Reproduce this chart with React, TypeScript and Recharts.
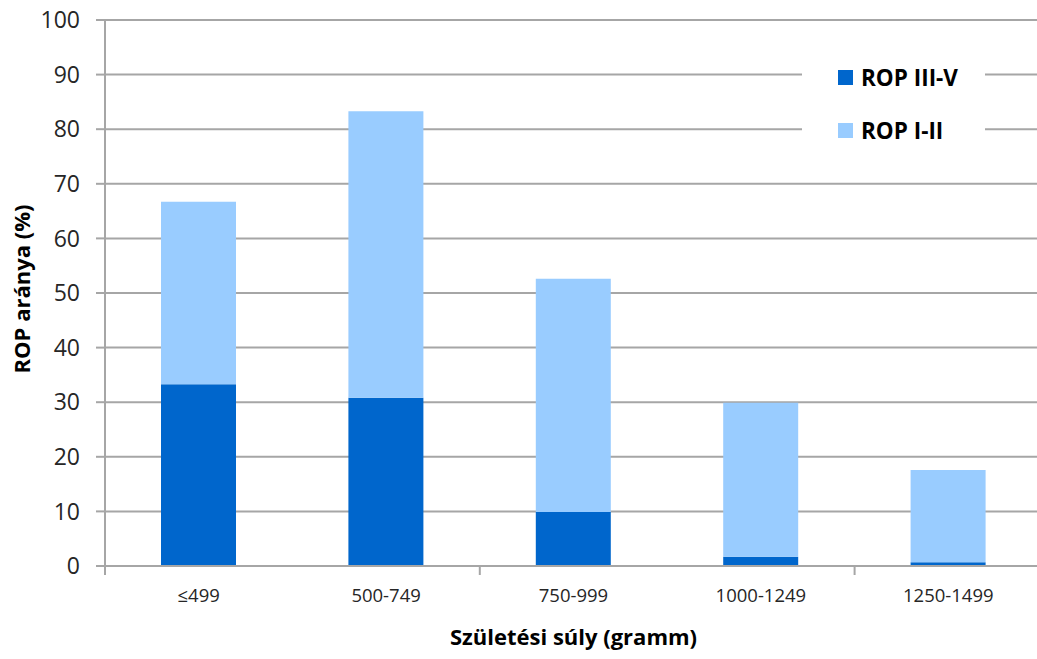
import React from "react";
import {
  BarChart,
  Bar,
  XAxis,
  YAxis,
  CartesianGrid,
  Legend,
} from "recharts";

const categories = ["≤499", "500-749", "750-999", "1000-1249", "1250-1499"];
const ropSevere = [33.3, 30.8, 9.9, 1.7, 0.7]; // ROP III-V
const ropMild = [33.4, 52.5, 42.7, 28.2, 16.9]; // ROP I-II
const yTicks = [0, 10, 20, 30, 40, 50, 60, 70, 80, 90, 100];

const DARK = "#0066CC";
const LIGHT = "#99CCFF";
const GRID = "#A6A6A6";
const TEXT = "#262626";

const series = [
  { key: "severe", name: "ROP III-V", color: DARK },
  { key: "mild", name: "ROP I-II", color: LIGHT },
];

const data = categories.map((c, i) => ({
  cat: c,
  severe: ropSevere[i],
  mild: ropMild[i],
}));

const XTick = (props: any) => {
  const { x, y, payload, index } = props;
  const half = payload?.offset ?? 0;
  return (
    <g>
      {index % 2 === 0 && (
        <line x1={x - half} x2={x - half} y1={y} y2={y + 9} stroke={GRID} strokeWidth={2} />
      )}
      <text x={x} y={y + 36} textAnchor="middle" fontSize={18.5} fill={TEXT}>
        {payload.value}
      </text>
    </g>
  );
};

const YTitle = () => (
  <text
    x={30}
    y={289}
    transform="rotate(-90 30 289)"
    textAnchor="middle"
    fontSize={22}
    fontWeight="bold"
    fill="#000"
  >
    ROP aránya (%)
  </text>
);

const LegendBox = () => (
  <div style={{ background: "#fff", width: 183, height: 106, position: "relative" }}>
    {series.map((s, i) => (
      <div
        key={s.key}
        style={{
          position: "absolute",
          left: 36,
          top: 27 + i * 53 - 14,
          height: 28,
          display: "flex",
          alignItems: "center",
        }}
      >
        <span style={{ width: 15, height: 15, background: s.color, display: "inline-block" }} />
        <span style={{ marginLeft: 8, fontSize: 22.5, fontWeight: "bold", color: "#000" }}>
          {s.name}
        </span>
      </div>
    ))}
  </div>
);

export default function App() {
  return (
    <div
      style={{
        position: "absolute",
        left: 0,
        top: 0,
        width: 1037,
        height: 659,
        overflow: "hidden",
        background: "#fff",
        fontFamily: "'Open Sans', sans-serif",
      }}
    >
      <BarChart
        width={1045}
        height={659}
        data={data}
        margin={{ top: 20, right: 3, bottom: 0, left: 0 }}
      >
        <CartesianGrid vertical={false} stroke={GRID} strokeWidth={2} />
        <XAxis
          dataKey="cat"
          height={93}
          axisLine={{ stroke: GRID, strokeWidth: 2 }}
          tickLine={false}
          tickSize={0}
          tickMargin={0}
          interval={0}
          tick={<XTick />}
          label={{
            value: "Születési súly (gramm)",
            position: "insideBottom",
            offset: 14,
            fontSize: 22,
            fontWeight: "bold",
            fill: "#000",
          }}
        />
        <YAxis
          width={105}
          domain={[0, 100]}
          ticks={yTicks}
          interval={0}
          axisLine={{ stroke: GRID, strokeWidth: 2 }}
          tickLine={{ stroke: GRID, strokeWidth: 2 }}
          tickSize={9}
          tickMargin={16}
          tick={{ fontSize: 23, fill: TEXT }}
          label={<YTitle />}
        />
        <Legend
          layout="vertical"
          align="center"
          verticalAlign="middle"
          content={<LegendBox />}
          wrapperStyle={{ position: "absolute", left: 802, top: 50, width: 183 }}
        />
        {series.map((s) => (
          <Bar
            key={s.key}
            dataKey={s.key}
            name={s.name}
            stackId="a"
            fill={s.color}
            barSize={75}
            isAnimationActive={false}
          />
        ))}
      </BarChart>
    </div>
  );
}
